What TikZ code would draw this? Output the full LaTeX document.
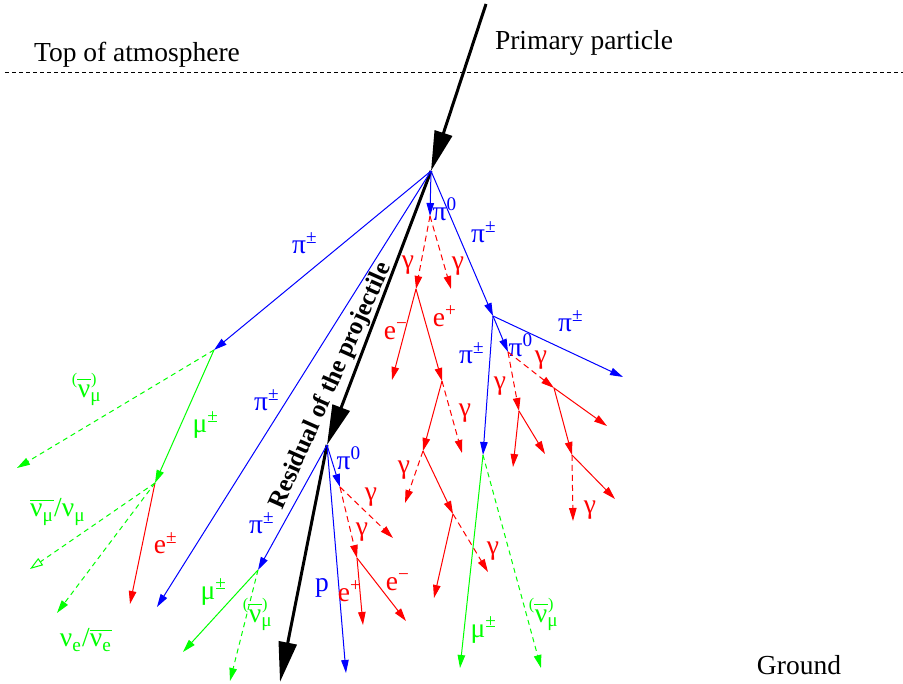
\documentclass[tikz,border=0pt]{standalone}
\usepackage{amsmath}
\usepackage{fontspec}
\setmainfont{Liberation Serif}
\usetikzlibrary{arrows.meta}

\newcommand{\pnu}{\ooalign{ν\cr\hidewidth\raisebox{5.2pt}{\fontsize{6.5}{6.5}\selectfont(\rule[1.7pt]{5.5pt}{0.4pt})}\hidewidth\cr}\textsubscript{μ}}
\newcommand{\bnu}[1]{$\overline{\hbox{ν\textsubscript{#1}}}$}

\begin{document}
\begin{tikzpicture}[x=0.4pt,y=-0.4pt,font=\fontsize{11}{13}\selectfont,
  tip/.style={-{Triangle[length=5.2pt,width=3pt]}},
  heavy/.style={line width=1.2pt,-{Triangle[length=16pt,width=7.2pt]}},
  pion/.style={blue,line width=0.4pt,tip},
  gam/.style={red,line width=0.4pt,dash pattern=on 2.4pt off 1.6pt,tip},
  lep/.style={red,line width=0.4pt,tip},
  muon/.style={green,line width=0.4pt,tip},
  neut/.style={green,line width=0.4pt,dash pattern=on 2pt off 1.6pt,tip},
  bl/.style={blue,inner sep=0pt},
  rd/.style={red,inner sep=0pt},
  gr/.style={green,inner sep=0pt}]
\useasboundingbox (0,0) rectangle (903,684);

% atmosphere and primary
\coordinate (atmL) at (5,73);
\coordinate (atmR) at (903,73);
\draw[line width=0.4pt,dash pattern=on 1.6pt off 1.2pt] (atmL) -- (atmR);
\node (top) at (137,55) {Top of atmosphere};
\node (prim) at (584,43) {Primary particle};
\node (ground) at (799,665) {Ground};
\coordinate (p0) at (486,4);
\coordinate (v1) at (431,171);
\coordinate (v2) at (327,445);
\coordinate (rend) at (280,682);
\draw[heavy] (p0) -- (v1);
\draw[heavy] (v1) -- (v2);
\draw[heavy] (v2) -- (rend);
\node[font=\fontsize{10}{12}\selectfont\bfseries,rotate=66,inner sep=0pt] (resid) at (331,386) {Residual of the projectile};

% first interaction
\coordinate (pa) at (214,350);
\coordinate (pb) at (157,607);
\coordinate (pc) at (430,216);
\coordinate (pd) at (493,316);
\draw[pion] (v1) -- (pa);
\draw[pion] (v1) -- (pb);
\draw[pion] (v1) -- (pc);
\draw[pion] (v1) -- (pd);
\node[bl] (lpa) at (305,243) {π\textsuperscript{±}};
\node[bl] (lpb) at (267,400) {π\textsuperscript{±}};
\node[bl] (lpc) at (445,209) {π\textsuperscript{0}};
\node[bl] (lpd) at (484,232) {π\textsuperscript{±}};

% pi0 -> gammas
\coordinate (g1) at (416,289);
\coordinate (g2) at (451,289);
\draw[gam] (pc) -- (g1);
\draw[gam] (pc) -- (g2);
\node[rd] (lg1) at (408,265) {γ};
\node[rd] (lg2) at (458,266) {γ};
\coordinate (em1) at (392,380);
\coordinate (ep1) at (442,381);
\draw[lep] (g1) -- (em1);
\draw[lep] (g1) -- (ep1);
\node[rd] (lem1) at (396,331) {e\textsuperscript{−}};
\node[rd] (lep1) at (445,316) {e\textsuperscript{+}};
\coordinate (x1) at (423,451);
\coordinate (g5) at (462,453);
\draw[lep] (ep1) -- (x1);
\draw[gam] (ep1) -- (g5);
\node[rd] (lg5) at (465,413) {γ};
\coordinate (g6) at (405,503);
\coordinate (x2) at (453,514);
\draw[gam] (x1) -- (g6);
\draw[lep] (x1) -- (x2);
\node[rd] (lg6) at (404,470) {γ};
\coordinate (e3) at (434,598);
\coordinate (g7) at (488,572);
\draw[lep] (x2) -- (e3);
\draw[gam] (x2) -- (g7);
\node[rd] (lg7) at (493,551) {γ};

% second charged pion vertex
\coordinate (pe) at (508,352);
\coordinate (pf) at (483,455);
\coordinate (pg2) at (623,377);
\draw[pion] (pd) -- (pg2);
\draw[pion] (pd) -- (pe);
\draw[pion] (pd) -- (pf);
\node[bl] (lpg2) at (571,321) {π\textsuperscript{±}};
\node[bl] (lpe) at (521,345) {π\textsuperscript{0}};
\node[bl] (lpf) at (472,353) {π\textsuperscript{±}};
\coordinate (g3) at (519,411);
\coordinate (g4) at (554,388);
\draw[gam] (pe) -- (g3);
\draw[gam] (pe) -- (g4);
\node[rd] (lg3) at (500,386) {γ};
\node[rd] (lg4) at (541,360) {γ};
\coordinate (e4) at (513,467);
\coordinate (e5) at (545,454);
\draw[lep] (g3) -- (e4);
\draw[lep] (g3) -- (e5);
\coordinate (e6) at (607,426);
\coordinate (x3) at (572,455);
\draw[lep] (g4) -- (e6);
\draw[lep] (g4) -- (x3);
\coordinate (g8) at (573,521);
\coordinate (e7) at (615,499);
\draw[gam] (x3) -- (g8);
\draw[lep] (x3) -- (e7);
\node[rd] (lg8) at (590,510) {γ};
\coordinate (mf) at (460,668);
\coordinate (nf) at (541,668);
\draw[muon] (pf) -- (mf);
\draw[neut] (pf) -- (nf);
\node[gr] (lmf) at (484,630) {μ\textsuperscript{±}};
\node[gr] (lnf) at (547,620) {\pnu};

% left pion decay
\coordinate (mg) at (155,483);
\coordinate (na) at (17,468);
\draw[muon] (pa) -- (mg);
\draw[neut] (pa) -- (na);
\node[gr] (lmg) at (206,425) {μ\textsuperscript{±}};
\node[gr] (lna) at (90,395) {\pnu};
\coordinate (eg) at (130,604);
\coordinate (nb) at (30,569);
\coordinate (nc) at (57,613);
\draw[lep] (mg) -- (eg);
\draw[green,line width=0.4pt,dash pattern=on 2pt off 1.6pt,-{Triangle[open,length=5.2pt,width=3.4pt]}] (mg) -- (nb);
\draw[neut] (mg) -- (nc);
\node[rd] (leg) at (166,543) {e\textsuperscript{±}};
\node[gr] (lnb) at (58,512) {\bnu{μ}/ν\textsubscript{μ}};
\node[gr] (lnc) at (86,640) {ν\textsubscript{e}/\bnu{e}};

% second interaction
\coordinate (ph) at (258,570);
\coordinate (pi0b) at (340,487);
\coordinate (prot) at (346,673);
\draw[pion] (v2) -- (ph);
\draw[pion] (v2) -- (pi0b);
\draw[pion] (v2) -- (prot);
\node[bl] (lph) at (262,523) {π\textsuperscript{±}};
\node[bl] (lpi0b) at (349,458) {π\textsuperscript{0}};
\node[bl] (lprot) at (322,588) {p};
\coordinate (g9) at (393,538);
\coordinate (g10) at (357,558);
\draw[gam] (pi0b) -- (g9);
\draw[gam] (pi0b) -- (g10);
\node[rd] (lg9) at (371,497) {γ};
\node[rd] (lg10) at (362,532) {γ};
\coordinate (ep2) at (363,625);
\coordinate (em2) at (406,621);
\draw[lep] (g10) -- (ep2);
\draw[lep] (g10) -- (em2);
\node[rd] (lep2) at (350,591) {e\textsuperscript{+}};
\node[rd] (lem2) at (398,582) {e\textsuperscript{−}};
\coordinate (mh) at (183,652);
\coordinate (nh) at (230,681);
\draw[muon] (ph) -- (mh);
\draw[neut] (ph) -- (nh);
\node[gr] (lmh) at (214,592) {μ\textsuperscript{±}};
\node[gr] (lnh) at (261,620) {\pnu};
\end{tikzpicture}
\end{document}
